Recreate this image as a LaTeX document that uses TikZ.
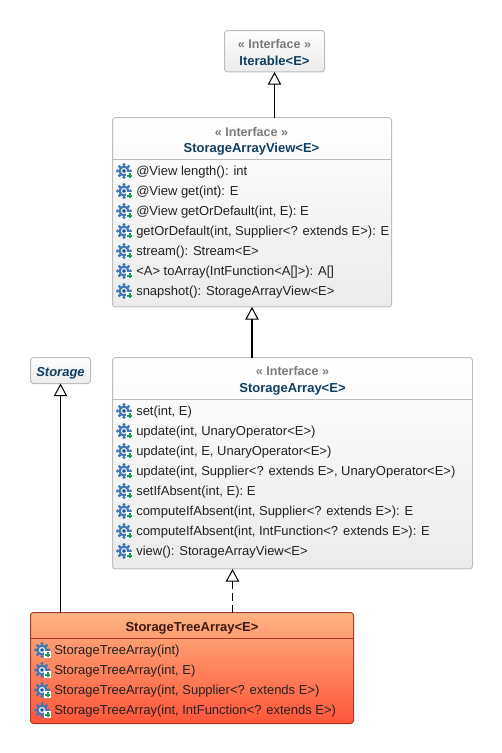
\documentclass[tikz,border=0pt]{standalone}
\usepackage{fontspec}
\setmainfont{Liberation Sans}
\usetikzlibrary{arrows.meta,calc}
\definecolor{ifaceline}{HTML}{BDBDBD}
\definecolor{ifacetop}{HTML}{FFFFFF}
\definecolor{ifacebot}{HTML}{EBEBEB}
\definecolor{titleblue}{HTML}{0E3F63}
\definecolor{stereo}{HTML}{7A7A7A}
\definecolor{memtext}{HTML}{222222}
\definecolor{treeline}{HTML}{A63A2C}
\definecolor{treetop}{HTML}{FFB382}
\definecolor{treebot}{HTML}{FF553A}
\definecolor{treetext}{HTML}{3C1A12}
\definecolor{gearblue}{HTML}{3F78B5}
\definecolor{geardark}{HTML}{1F4F86}
\definecolor{plusgreen}{HTML}{1F9A55}
\tikzset{
  x=0.75pt,y=-0.75pt,
  boxbase/.style={rectangle,rounded corners=2.2pt,line width=0.75pt,anchor=north west,inner sep=0pt,outer sep=0pt},
  ifacebox/.style={boxbase,draw=ifaceline,top color=ifacetop,bottom color=ifacebot},
  treebox/.style={boxbase,draw=treeline,top color=treetop,bottom color=treebot},
  stereotext/.style={font=\fontsize{9.4}{11}\selectfont\bfseries,text=stereo,inner sep=0pt,anchor=base},
  titletext/.style={font=\fontsize{9.75}{11}\selectfont\bfseries,text=titleblue,inner sep=0pt,anchor=base},
  member/.style={font=\fontsize{9.75}{11}\selectfont,text=memtext,inner sep=0pt,anchor=base west},
  divider/.style={line width=0.6pt,draw=ifaceline},
  inherit/.style={line width=0.9pt,draw=black,-{Triangle[open,fill=white,length=9.5pt,width=10pt,line width=0.75pt]}},
  gearicon/.pic={
    \foreach \a in {0,45,...,315}{\fill[gearblue] (\a:6.4) circle[radius=1.7];}
    \fill[gearblue] (0,0) circle[radius=5.6];
    \fill[white!80!gearblue] (0,0) circle[radius=3.2];
    \fill[geardark] (0,0) circle[radius=1.8];
    \fill[white] (2.2,1.2) rectangle (9.2,8.2);
    \fill[plusgreen] (4.6,2.2) rectangle (6.8,7.4);
    \fill[plusgreen] (3.1,3.7) rectangle (8.3,5.9);
  }
}
\begin{document}
\begin{tikzpicture}
\useasboundingbox (0,0) rectangle (502,753);
% boxes
\node[ifacebox,minimum width=75pt,minimum height=31.1pt] (iter) at (224.5,30.5) {};
\node[ifacebox,minimum width=209.25pt,minimum height=142.1pt] (view) at (112.5,117.5) {};
\node[ifacebox,minimum width=45pt,minimum height=19.5pt] (storage) at (30.5,357.5) {};
\node[ifacebox,minimum width=270pt,minimum height=158.6pt] (array) at (112.5,357.5) {};
\node[treebox,minimum width=242.25pt,minimum height=83.25pt] (tree) at (30.5,612.5) {};
% titles
\node[stereotext] (iterS) at (274.5,48) {« Interface »};
\node[titletext] (iterT) at (274.5,65) {Iterable<E>};
\node[stereotext] (viewS) at (251.5,136) {« Interface »};
\node[titletext] (viewT) at (251.5,152) {StorageArrayView<E>};
\node[titletext,font=\fontsize{9.75}{11}\selectfont\bfseries\itshape] (storT) at (60.5,376) {Storage};
\node[stereotext] (arrS) at (292.5,375) {« Interface »};
\node[titletext] (arrT) at (292.5,392) {StorageArray<E>};
\node[titletext,text=treetext] (treeT) at (192,631) {StorageTreeArray<E>};
% dividers
\draw[divider] (view.west |- 0,159.5) -- (view.east |- 0,159.5);
\draw[divider] (array.west |- 0,399.5) -- (array.east |- 0,399.5);
\draw[divider,draw=treeline] (tree.west |- 0,638.5) -- (tree.east |- 0,638.5);
% members of StorageArrayView
\pic at (124,171) {gearicon};
\node[member] (v1) at (136,175) {@View length(): int};
\pic at (124,191) {gearicon};
\node[member] (v2) at (136,195) {@View get(int): E};
\pic at (124,211) {gearicon};
\node[member] (v3) at (136,215) {@View getOrDefault(int, E): E};
\pic at (124,231) {gearicon};
\node[member] (v4) at (136,235) {getOrDefault(int, Supplier<? extends E>): E};
\pic at (124,251) {gearicon};
\node[member] (v5) at (136,255) {stream(): Stream<E>};
\pic at (124,271) {gearicon};
\node[member] (v6) at (136,275) {<A> toArray(IntFunction<A[]>): A[]};
\pic at (124,291) {gearicon};
\node[member] (v7) at (136,295) {snapshot(): StorageArrayView<E>};
% members of StorageArray
\pic at (124,411) {gearicon};
\node[member] (a1) at (136,415) {set(int, E)};
\pic at (124,431) {gearicon};
\node[member] (a2) at (136,435) {update(int, UnaryOperator<E>)};
\pic at (124,451) {gearicon};
\node[member] (a3) at (136,455) {update(int, E, UnaryOperator<E>)};
\pic at (124,471) {gearicon};
\node[member] (a4) at (136,475) {update(int, Supplier<? extends E>, UnaryOperator<E>)};
\pic at (124,491) {gearicon};
\node[member] (a5) at (136,495) {setIfAbsent(int, E): E};
\pic at (124,511) {gearicon};
\node[member] (a6) at (136,515) {computeIfAbsent(int, Supplier<? extends E>): E};
\pic at (124,531) {gearicon};
\node[member] (a7) at (136,535) {computeIfAbsent(int, IntFunction<? extends E>): E};
\pic at (124,551) {gearicon};
\node[member] (a8) at (136,555) {view(): StorageArrayView<E>};
% members of StorageTreeArray
\pic at (42,650) {gearicon};
\node[member] (t1) at (54,654) {StorageTreeArray(int)};
\pic at (42,670) {gearicon};
\node[member] (t2) at (54,674) {StorageTreeArray(int, E)};
\pic at (42,690) {gearicon};
\node[member] (t3) at (54,694) {StorageTreeArray(int, Supplier<? extends E>)};
\pic at (42,710) {gearicon};
\node[member] (t4) at (54,714) {StorageTreeArray(int, IntFunction<? extends E>)};
% connectors
\coordinate (realtip) at ($(array.south west)+(120,0)$);
\draw[inherit] (view.north -| iter.south) -- (iter.south);
\draw[inherit] (array.north -| view.south) -- (view.south);
\draw[inherit] (tree.north -| storage.south) -- (storage.south);
\draw[inherit,dashed,dash pattern=on 6pt off 3pt] (tree.north -| realtip) -- (realtip);
\end{tikzpicture}
\end{document}
